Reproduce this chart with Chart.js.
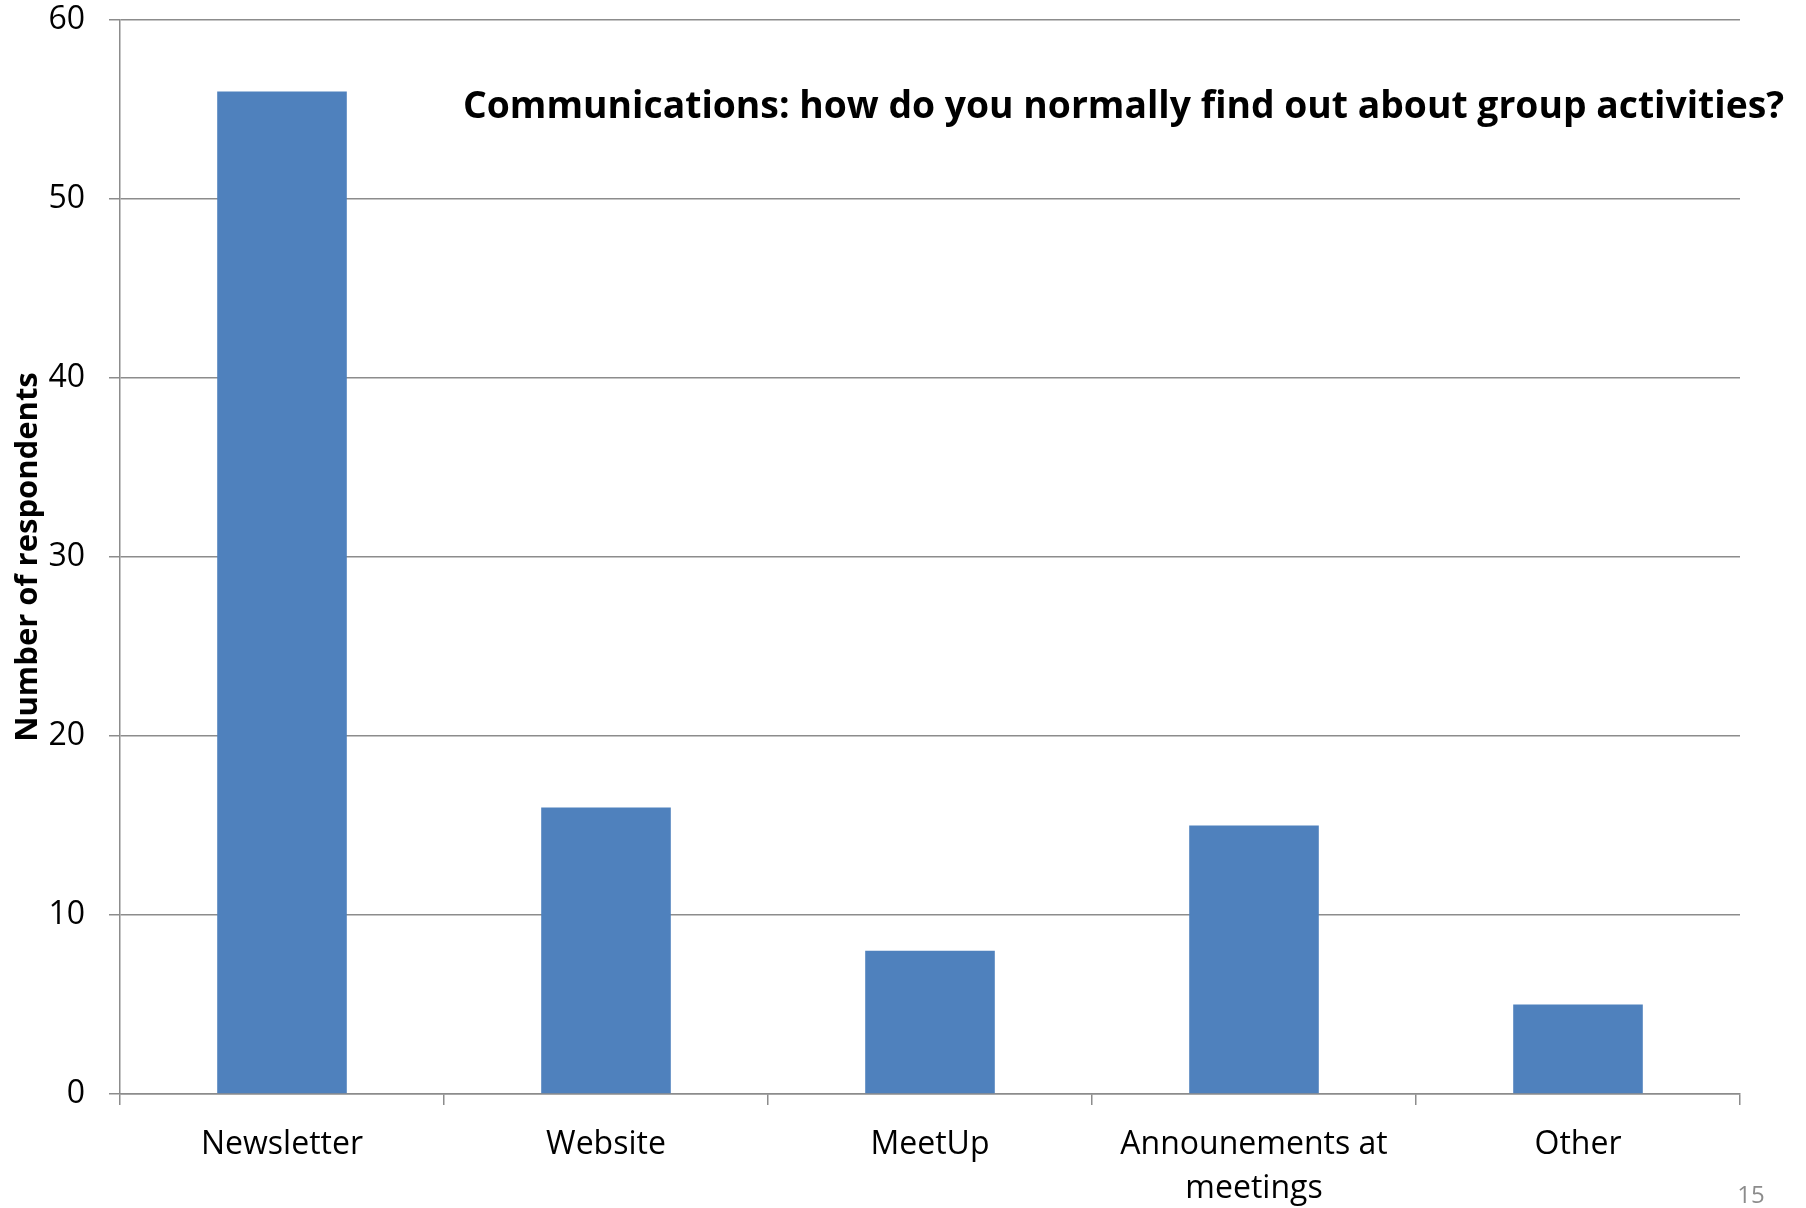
<!DOCTYPE html>
<html>
<head>
<meta charset="utf-8">
<script src="https://cdn.jsdelivr.net/npm/chart.js@4"></script>
<style>
html, body { margin: 0; padding: 0; background: #fff; }
</style>
</head>
<body>
<canvas id="chart" width="1806" height="1208"></canvas>
<script>
// data
const categories = ['Newsletter', 'Website', 'MeetUp', ['Announements at', 'meetings'], 'Other'];
const respondents = [56, 16, 8, 15, 5];
const yTicks = [0, 10, 20, 30, 40, 50, 60];
const chartTitle = 'Communications: how do you normally find out about group activities?';
const axisTitle = 'Number of respondents';
const pageNumber = '15';

const barColor = '#4f81bd';
const lineColor = '#8c8c8c';
const fontFamily = '"Open Sans", "DejaVu Sans", sans-serif';

// title sits inside the plot area, so draw it ourselves instead of the title plugin
const overlayText = {
    id: 'overlayText',
    afterDraw: function (chart) {
        const ctx = chart.ctx;
        ctx.save();
        ctx.fillStyle = '#000';
        ctx.textBaseline = 'middle';
        ctx.font = 'bold 37px ' + fontFamily;
        const w = ctx.measureText(chartTitle).width;
        ctx.translate(463, 107);
        ctx.scale(1321 / w, 1);
        ctx.fillText(chartTitle, 0, 0);
        ctx.restore();

        ctx.save();
        ctx.fillStyle = '#8c8c8c';
        ctx.font = '24px ' + fontFamily;
        ctx.textAlign = 'center';
        ctx.textBaseline = 'middle';
        ctx.fillText(pageNumber, 1751, 1196);
        ctx.restore();
    }
};

const ctx = document.getElementById('chart').getContext('2d');
const chart = new Chart(ctx, {
    type: 'bar',
    data: {
        labels: categories,
        datasets: [{
            label: axisTitle,
            data: respondents,
            backgroundColor: barColor,
            borderWidth: 0,
            barPercentage: 0.4,
            categoryPercentage: 1.0
        }]
    },
    options: {
        responsive: false,
        animation: false,
        layout: { padding: { top: 20, right: 66, bottom: 0, left: 0 } },
        plugins: {
            legend: { display: false },
            tooltip: { enabled: false }
        },
        scales: {
            x: {
                offset: true,
                afterFit: function (scale) { scale.height = 114; },
                border: { color: lineColor, width: 1.5 },
                grid: { offset: true, drawOnChartArea: false, drawTicks: true, tickLength: 11, color: lineColor, lineWidth: 1.5 },
                ticks: {
                    color: '#000',
                    font: { family: fontFamily, size: 32, lineHeight: 1.38 },
                    padding: 18,
                    maxRotation: 0,
                    autoSkip: false
                }
            },
            y: {
                min: 0,
                max: 60,
                afterBuildTicks: function (scale) {
                    scale.ticks = yTicks.map(function (v) { return { value: v }; });
                },
                afterFit: function (scale) {
                    scale.width = 120;
                    // the big tick padding would otherwise push the plot down
                    scale.paddingTop = 0;
                    scale.paddingBottom = 0;
                },
                border: { color: lineColor, width: 1.5 },
                grid: { color: lineColor, lineWidth: 1.5, tickLength: 11, drawTicks: true },
                ticks: {
                    color: '#000',
                    font: { family: fontFamily, size: 32 },
                    padding: 24
                },
                title: {
                    display: true,
                    text: axisTitle,
                    color: '#000',
                    font: { family: fontFamily, size: 31, weight: 'bold' },
                    padding: { top: 10, bottom: 0 }
                }
            }
        }
    },
    plugins: [overlayText]
});
</script>
</body>
</html>
